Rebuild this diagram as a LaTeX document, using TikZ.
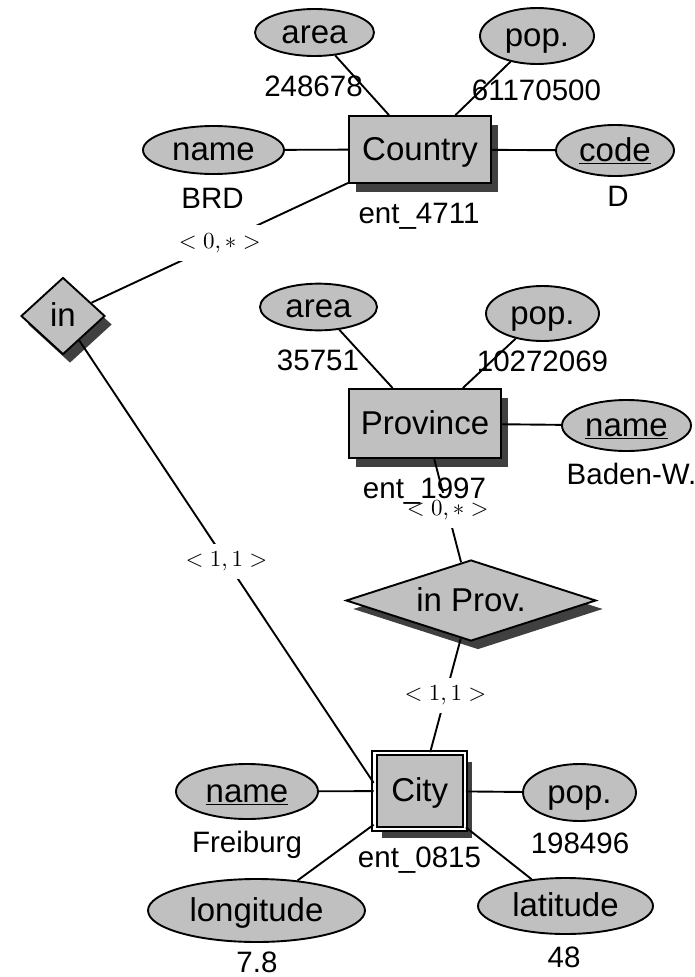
\documentclass[tikz,border=0pt]{standalone}
\usepackage{fontspec}
\setmainfont{Liberation Sans}
\usetikzlibrary{shapes.geometric,shadows}
\definecolor{boxfill}{RGB}{192,192,192}
\definecolor{shadowc}{RGB}{64,64,64}
\begin{document}
\begin{tikzpicture}[x=1pt,y=-1pt,
  base/.style={draw, line width=1.9pt, fill=boxfill, inner sep=0pt, text height=27pt, text depth=6pt, font=\fontsize{33}{40}\selectfont},
  attr/.style 2 args={base, ellipse, minimum width=#1pt, minimum height=#2pt},
  shad/.style={drop shadow={shadow xshift=7pt, shadow yshift=-8.5pt, fill=shadowc, opacity=1}},
  ent/.style 2 args={base, rectangle, minimum width=#1pt, minimum height=#2pt, shad},
  rel/.style 2 args={base, diamond, minimum width=#1pt, minimum height=#2pt, shad},
  val/.style={inner sep=0pt, anchor=base, font=\fontsize{29.5}{35}\selectfont},
  card/.style={fill=white, inner sep=3.5pt, scale=2.3, font=\normalsize},
  conn/.style={line width=1.9pt}
]
\useasboundingbox (0,0) rectangle (695,977);

% Country
\node[ent={142}{67}] (country) at (420,149.5) {Country};
\node[attr={119}{47}] (carea) at (314.5,32.5) {area};
\node[attr={114}{56}] (cpop) at (537,36) {pop.};
\node[attr={141}{48}] (cname) at (213.5,150) {name};
\node[attr={118}{51}] (ccode) at (615,150.5) {\underline{code}};

% in
\node[rel={84}{77}] (in) at (63,316) {in};

% Province
\node[ent={152}{69}] (prov) at (425,423.5) {Province};
\node[attr={117}{46}] (parea) at (318.5,307) {area};
\node[attr={113}{55}] (ppop) at (542.5,313.5) {pop.};
\node[attr={129}{51}] (pname) at (626.5,425.5) {\underline{name}};

% in Prov.
\node[rel={250}{81}, aspect=3] (inprov) at (471,600.5) {in Prov.};

% City
\node[ent={90.5}{76}, double, double distance=2.8pt, line width=1.7pt] (city) at (419.75,791) {City};
\node[attr={142}{55}] (cname2) at (247,791.5) {\underline{name}};
\node[attr={113}{57}] (cpop2) at (579.5,792.5) {pop.};
\node[attr={217}{63}] (clong) at (256.5,910.5) {longitude};
\node[attr={175}{56}] (clat) at (565.5,906) {latitude};

% connectors
\draw[conn] (carea) -- (country);
\draw[conn] (cpop) -- (country);
\draw[conn] (cname) -- (country);
\draw[conn] (country) -- (ccode);
\draw[conn] (parea) -- (prov);
\draw[conn] (ppop) -- (prov);
\draw[conn] (prov) -- (pname);
\draw[conn] (cname2) -- (city);
\draw[conn] (city) -- (cpop2);
\draw[conn] (clong) -- (city);
\draw[conn] (clat) -- (city);

\draw[conn] (country) -- node[card] (k1) {$<0,*>$} (in);
\draw[conn] (in) -- node[card] (k2) {$<1,1>$} (city.170);
\draw[conn] (prov) -- node[card] (k3) {$<0,*>$} (inprov);
\draw[conn] (inprov) -- node[card] (k4) {$<1,1>$} (city);

% values
\node[val] (v1) at (313.5,96) {248678};
\node[val] (v2) at (536.5,100) {61170500};
\node[val] (v3) at (212.5,208) {BRD};
\node[val] (v4) at (419,223) {ent\_4711};
\node[val] (v5) at (618,206) {D};
\node[val] (v6) at (318,370) {35751};
\node[val] (v7) at (542.5,371) {10272069};
\node[val] (v8) at (631.5,484) {Baden-W.};
\node[val] (v9) at (424.5,498) {ent\_1997};
\node[val] (v10) at (247,852) {Freiburg};
\node[val] (v11) at (419.5,867) {ent\_0815};
\node[val] (v12) at (580,853) {198496};
\node[val] (v13) at (257,972) {7.8};
\node[val] (v14) at (564,967) {48};
\end{tikzpicture}
\end{document}
